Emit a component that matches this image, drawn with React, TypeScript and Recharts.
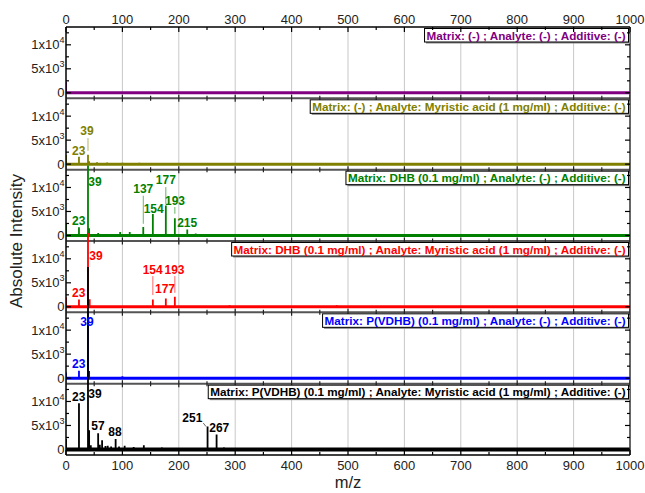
import React from "react";
import {
  ComposedChart,
  Line,
  XAxis,
  YAxis,
  CartesianGrid,
  ReferenceLine,
  ReferenceDot,
  Scatter,
} from "recharts";

const FONT = "Arial, 'Liberation Sans', sans-serif";
const PANEL = 14860; // intensity span of one stacked panel
const FLOOR = -1150; // how far below zero each panel reaches

const titles = [
  "Matrix: (-) ; Analyte: (-) ; Additive: (-)",
  "Matrix: (-) ; Analyte: Myristic acid (1 mg/ml) ; Additive: (-)",
  "Matrix: DHB (0.1 mg/ml) ; Analyte: (-) ; Additive: (-)",
  "Matrix: DHB (0.1 mg/ml) ; Analyte: Myristic acid (1 mg/ml) ; Additive: (-)",
  "Matrix: P(VDHB) (0.1 mg/ml) ; Analyte: (-) ; Additive: (-)",
  "Matrix: P(VDHB) (0.1 mg/ml) ; Analyte: Myristic acid (1 mg/ml) ; Additive: (-)",
];
const colors = ["#800080", "#808000", "#008000", "#ff0000", "#0000ff", "#000000"];

// peaks: [m/z, absolute intensity]
const purplePeaks = [[0, 2300]];
const olivePeaks = [[0, 1900], [23, 1520], [39, 1940], [41, 600], [55, 400], [73, 350], [100, 300], [130, 300]];
const greenPeaks = [
  [0, 2400], [23, 1700], [39, 14600], [41, 1500], [57, 500], [96, 700], [113, 700], [137, 1750],
  [154, 4500], [177, 6250], [193, 3600], [215, 1250], [230, 400], [300, 300], [400, 300],
];
const redPeaks = [[0, 2000], [23, 1540], [39, 15400], [42, 1600], [154, 1540], [177, 1750], [193, 2080], [290, 300], [480, 300]];
const bluePeaks = [[0, 1200], [23, 1520], [39, 14000], [41, 1500], [100, 400]];
const blackPeaks = [
  [0, 2200], [23, 9650], [39, 38000], [41, 4000], [44, 900], [57, 3400], [60, 1000], [64, 1900],
  [70, 700], [74, 800], [80, 600], [88, 2200], [94, 600], [104, 800], [120, 500], [138, 900],
  [170, 400], [251, 4800], [267, 3100], [280, 400],
];

// peak labels: [text, m/z of text centre, intensity of text baseline]
const oliveLabels = [["23", 22.7, 1875], ["39", 37.2, 6100]];
const greenLabels = [
  ["23", 22.7, 2125], ["39", 51.4, 10250], ["137", 137, 8790], ["154", 155.5, 4650],
  ["177", 177, 10650], ["193", 193.3, 6330], ["215", 214.9, 1710],
];
const redLabels = [["23", 22.7, 2125], ["39", 53.2, 9830], ["154", 153.7, 6920], ["193", 192.4, 6920], ["177", 175.5, 2850]];
const blueLabels = [["39", 37.2, 10875], ["23", 22.7, 2210]];
const blackLabels = [
  ["23", 22.7, 10190], ["39", 51.4, 10770], ["57", 56.7, 3960], ["88", 86.9, 2790],
  ["251", 224, 5670], ["267", 271.8, 3625],
];

// leader lines: [m/z from, intensity from, m/z to, intensity to]
const oliveLeaders = [[39, 5420, 39, 2770]];
const greenLeaders = [[137, 8270, 137, 2440], [177, 10080, 177, 6600], [193, 5920, 193, 4520]];
const redLeaders = [[154, 6400, 154, 2440], [193, 6400, 193, 2910]];
const blackLeaders = [[243.4, 5500, 248.2, 4790]];

const peaks = [purplePeaks, olivePeaks, greenPeaks, redPeaks, bluePeaks, blackPeaks];
const labels = [[], oliveLabels, greenLabels, redLabels, blueLabels, blackLabels];
const leaders = [[], oliveLeaders, greenLeaders, redLeaders, [], blackLeaders];

const MZ_TICKS = [0, 50, 100, 150, 200, 250, 300, 350, 400, 450, 500, 550, 600, 650, 700, 750, 800, 850, 900, 950, 1000];
const GRID_MZ = [100, 200, 300, 400, 500, 600, 700, 800, 900];
const LOCAL_TICKS = [0, 2500, 5000, 7500, 10000, 12500];

const offsetOf = (i: number) => (5 - i) * PANEL;

const traceOf = (list: number[][], off: number) => {
  const pts = [{ mz: 0, v: off }];
  list.forEach(([mz, h]) => {
    pts.push({ mz, v: off }, { mz, v: off + h }, { mz, v: off });
  });
  pts.push({ mz: 1000, v: off });
  return pts;
};

const yTicks: number[] = [];
for (let k = 0; k < 6; k++) LOCAL_TICKS.forEach((t) => yTicks.push(k * PANEL + t));

const boundaryTicks: { mz: number; v: number }[] = [];
for (let k = 1; k < 6; k++) MZ_TICKS.forEach((mz) => boundaryTicks.push({ mz, v: k * PANEL + FLOOR }));

let ctx: CanvasRenderingContext2D | null = null;
const measure = (s: string, font: string) => {
  if (!ctx) ctx = document.createElement("canvas").getContext("2d");
  if (!ctx) return s.length * 6;
  ctx.font = font;
  return ctx.measureText(s).width;
};

const XTick = (p: any) => {
  const { x, y, payload, side } = p;
  const v = payload.value;
  const major = v % 100 === 0;
  const dir = side === "top" ? 1 : -1;
  return (
    <g>
      <line x1={x} x2={x} y1={y} y2={y + dir * (major ? 5 : 3)} stroke="#000" strokeWidth={1.2} />
      {major && (
        <text x={x} y={side === "top" ? y - 3.5 : y + 15} textAnchor="middle" fontSize={13} fill="#222" fontFamily={FONT}>
          {v}
        </text>
      )}
    </g>
  );
};

const YTick = (p: any) => {
  const { x, y, payload, side } = p;
  const v = payload.value;
  const t = Math.round(v - Math.floor(v / PANEL) * PANEL);
  const major = t % 5000 === 0;
  const dir = side === "left" ? 1 : -1;
  let txt: React.ReactNode = null;
  if (side === "left" && major) {
    const common = { x: x - 1.5, y: y + 4.5, textAnchor: "end" as const, fontSize: 13, fill: "#222", fontFamily: FONT };
    if (t === 0) txt = <text {...common}>0</text>;
    else
      txt = (
        <text {...common}>
          {t === 5000 ? "5x10" : "1x10"}
          <tspan dy={-6} fontSize={9}>
            {t === 5000 ? "3" : "4"}
          </tspan>
        </text>
      );
  }
  return (
    <g>
      <line x1={x} x2={x + dir * (major ? 5 : 3)} y1={y} y2={y} stroke="#000" strokeWidth={1.2} />
      {txt}
    </g>
  );
};

const TitleBox = ({ cx, cy, text, color }: any) => {
  const font = `bold 11.7px ${FONT}`;
  const w = measure(text, font) + 4;
  const x0 = cx - 1.5 - w;
  const y0 = cy + 1.5;
  return (
    <g>
      <rect x={x0 + 1.5} y={y0 + 1.5} width={w} height={13.5} fill="#888" />
      <rect x={x0} y={y0} width={w} height={13.5} fill="#fff" stroke="#000" strokeWidth={1} />
      <text x={x0 + 2} y={y0 + 11} fontSize={11.7} fontWeight="bold" fill={color} fontFamily={FONT}>
        {text}
      </text>
    </g>
  );
};

const PeakText = ({ cx, cy, text, color }: any) => (
  <text x={cx} y={cy} textAnchor="middle" fontSize={12} fontWeight="bold" fill={color} fontFamily={FONT}>
    {text}
  </text>
);

const BoundaryTick = (p: any) => {
  const major = p.payload && p.payload.mz % 100 === 0;
  const h = major ? 3.5 : 2.5;
  return <line x1={p.cx} x2={p.cx} y1={p.cy - h} y2={p.cy + h} stroke="#222" strokeWidth={1.2} />;
};

export default function App() {
  return (
    <div style={{ position: "absolute", left: 0, top: 0, width: 645, height: 493, background: "#fff" }}>
      <ComposedChart width={645} height={493} margin={{ top: 0, right: 0, bottom: 0, left: 0 }}>
        <CartesianGrid
          xAxisId="bottom"
          yAxisId="left"
          horizontal={false}
          verticalValues={GRID_MZ}
          stroke="#c8c8c8"
          strokeWidth={1}
        />
        <XAxis
          xAxisId="top"
          orientation="top"
          type="number"
          dataKey="mz"
          domain={[0, 1000]}
          ticks={MZ_TICKS}
          interval={0}
          height={27}
          allowDataOverflow
          tickSize={0}
          tickMargin={0}
          tickLine={false}
          axisLine={{ stroke: "#000", strokeWidth: 1.5 }}
          tick={(p: any) => <XTick {...p} side="top" />}
        />
        <XAxis
          xAxisId="bottom"
          orientation="bottom"
          type="number"
          dataKey="mz"
          domain={[0, 1000]}
          ticks={MZ_TICKS}
          interval={0}
          height={38}
          allowDataOverflow
          tickSize={0}
          tickMargin={0}
          tickLine={false}
          axisLine={{ stroke: "#000", strokeWidth: 1.5 }}
          tick={(p: any) => <XTick {...p} side="bottom" />}
          label={{
            value: "m/z",
            content: (lp: any) => {
              const vb = lp.viewBox;
              return (
                <text x={vb.x + vb.width / 2} y={vb.y + 33} textAnchor="middle" fontSize={16.5} fill="#222" fontFamily={FONT}>
                  m/z
                </text>
              );
            },
          }}
        />
        <YAxis
          yAxisId="left"
          orientation="left"
          type="number"
          dataKey="v"
          width={66}
          domain={[FLOOR, FLOOR + 6 * PANEL]}
          ticks={yTicks}
          interval={0}
          allowDataOverflow
          tickSize={0}
          tickMargin={0}
          tickLine={false}
          axisLine={{ stroke: "#000", strokeWidth: 1.5 }}
          tick={(p: any) => <YTick {...p} side="left" />}
          label={{
            value: "Absolute Intensity",
            content: (lp: any) => {
              const vb = lp.viewBox;
              const cx = vb.x + 21.5;
              const cy = vb.y + vb.height / 2;
              return (
                <text x={cx} y={cy} transform={`rotate(-90 ${cx} ${cy})`} textAnchor="middle" fontSize={17} fill="#222" fontFamily={FONT}>
                  Absolute Intensity
                </text>
              );
            },
          }}
        />
        <YAxis
          yAxisId="right"
          orientation="right"
          type="number"
          width={15}
          domain={[FLOOR, FLOOR + 6 * PANEL]}
          ticks={yTicks}
          interval={0}
          allowDataOverflow
          tickSize={0}
          tickMargin={0}
          tickLine={false}
          axisLine={{ stroke: "#333", strokeWidth: 1.5 }}
          tick={(p: any) => <YTick {...p} side="right" />}
        />

        {[1, 2, 3, 4, 5].map((k) => (
          <ReferenceLine key={`b${k}`} xAxisId="bottom" yAxisId="left" y={k * PANEL + FLOOR} stroke="#555" strokeWidth={2} />
        ))}

        {peaks.map((list, i) => (
          <Line
            key={`base${i}`}
            data={[{ mz: 0, v: offsetOf(i) }, { mz: 1000, v: offsetOf(i) }]}
            dataKey="v"
            xAxisId="bottom"
            yAxisId="left"
            stroke={colors[i]}
            strokeWidth={i === 5 ? 4 : 3}
            dot={false}
            isAnimationActive={false}
          />
        ))}
        {peaks.map((list, i) => (
          <Line
            key={`trace${i}`}
            data={traceOf(list, offsetOf(i))}
            dataKey="v"
            xAxisId="bottom"
            yAxisId="left"
            stroke={colors[i]}
            strokeWidth={1.8}
            dot={false}
            isAnimationActive={false}
          />
        ))}

        <Scatter
          data={boundaryTicks}
          dataKey="v"
          xAxisId="bottom"
          yAxisId="left"
          isAnimationActive={false}
          shape={(p: any) => <BoundaryTick {...p} />}
        />

        {leaders.map((list, i) =>
          list.map(([m1, a, m2, b], j) => (
            <ReferenceLine
              key={`l${i}-${j}`}
              xAxisId="bottom"
              yAxisId="left"
              ifOverflow="visible"
              segment={[
                { x: m1, y: offsetOf(i) + a },
                { x: m2, y: offsetOf(i) + b },
              ]}
              stroke={colors[i]}
              strokeOpacity={0.6}
              strokeWidth={1}
            />
          ))
        )}

        {labels.map((list, i) =>
          list.map(([text, mz, v], j) => (
            <ReferenceDot
              key={`t${i}-${j}`}
              xAxisId="bottom"
              yAxisId="left"
              x={mz as number}
              y={offsetOf(i) + (v as number)}
              ifOverflow="visible"
              shape={(p: any) => <PeakText cx={p.cx} cy={p.cy} text={text} color={colors[i]} />}
            />
          ))
        )}

        {titles.map((t, i) => (
          <ReferenceDot
            key={`title${i}`}
            xAxisId="bottom"
            yAxisId="left"
            x={1000}
            y={offsetOf(i) + PANEL + FLOOR}
            ifOverflow="visible"
            shape={(p: any) => <TitleBox cx={p.cx} cy={p.cy} text={t} color={colors[i]} />}
          />
        ))}
      </ComposedChart>
    </div>
  );
}
